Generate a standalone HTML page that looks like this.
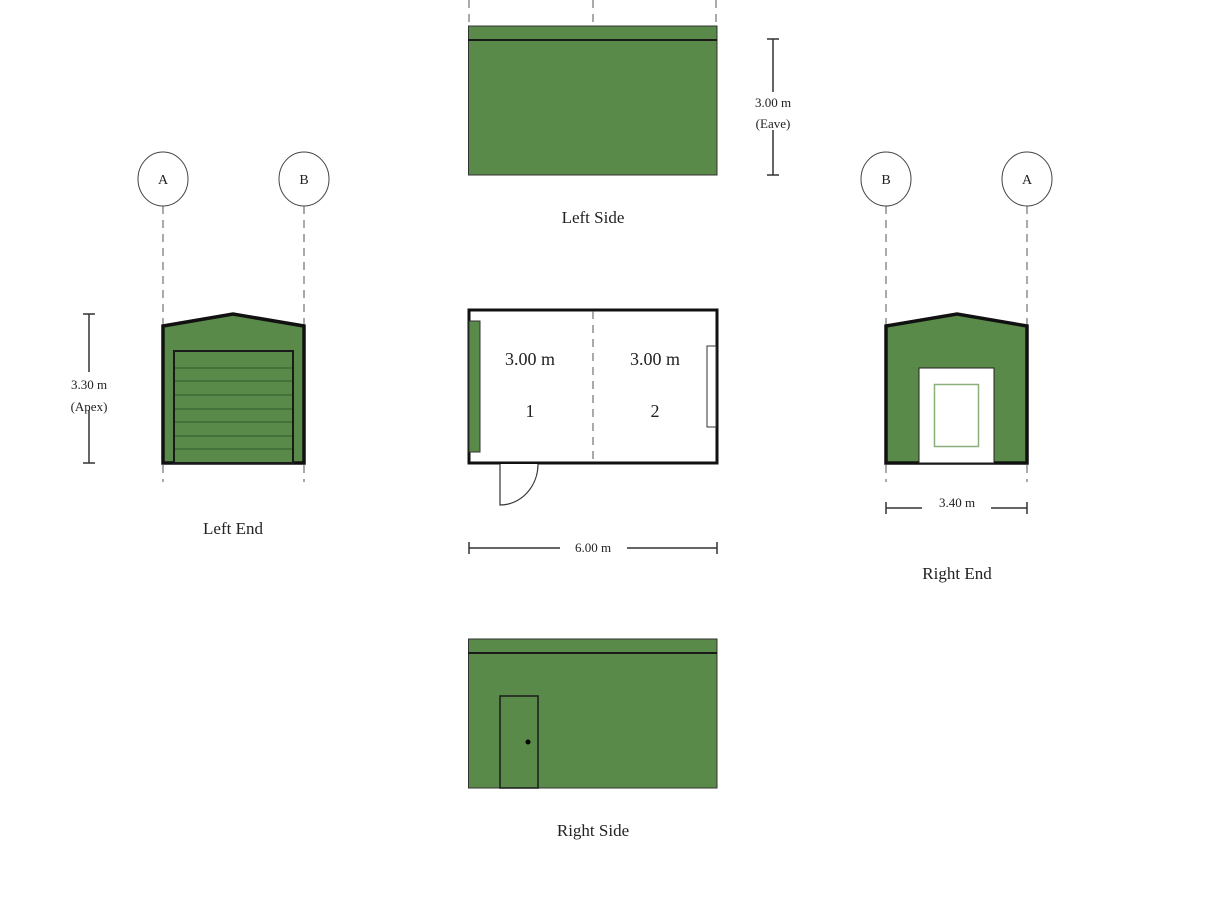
<!DOCTYPE html>
<html><head><meta charset="utf-8"><style>html,body{margin:0;padding:0;background:#fff}svg{display:block}text{font-family:"Liberation Serif",serif;fill:#222}</style></head><body>
<svg width="1212" height="909" viewBox="0 0 1212 909" xmlns="http://www.w3.org/2000/svg">
<g stroke="#555" stroke-width="1" stroke-dasharray="8,6">
<line x1="469" y1="0" x2="469" y2="26"/><line x1="593" y1="0" x2="593" y2="26"/><line x1="716" y1="0" x2="716" y2="26"/>
<line x1="163" y1="206" x2="163" y2="326"/><line x1="304" y1="206" x2="304" y2="326"/>
<line x1="163" y1="465" x2="163" y2="482"/><line x1="304" y1="465" x2="304" y2="482"/>
<line x1="886" y1="206" x2="886" y2="326"/><line x1="1027" y1="206" x2="1027" y2="326"/>
<line x1="886" y1="465" x2="886" y2="482"/><line x1="1027" y1="465" x2="1027" y2="482"/>
</g>
<!-- Left side -->
<rect x="468.5" y="26" width="248.5" height="149" fill="#5a8a4a" stroke="#333" stroke-width="1"/>
<line x1="468" y1="40" x2="717" y2="40" stroke="#1a1a1a" stroke-width="2"/>
<g stroke="#333" stroke-width="1.5"><line x1="773" y1="39" x2="773" y2="92"/><line x1="773" y1="130" x2="773" y2="175"/><line x1="767" y1="39" x2="779" y2="39"/><line x1="767" y1="175" x2="779" y2="175"/></g>
<text x="773" y="107" font-size="13" text-anchor="middle">3.00 m</text>
<text x="773" y="128" font-size="13" text-anchor="middle">(Eave)</text>
<text x="593" y="223" font-size="17" text-anchor="middle">Left Side</text>
<!-- circles -->
<g fill="#fff" stroke="#444" stroke-width="1">
<ellipse cx="163" cy="179" rx="25" ry="27"/><ellipse cx="304" cy="179" rx="25" ry="27"/>
<ellipse cx="886" cy="179" rx="25" ry="27"/><ellipse cx="1027" cy="179" rx="25" ry="27"/>
</g>
<g font-size="14" text-anchor="middle"><text x="163" y="184">A</text><text x="304" y="184">B</text><text x="886" y="184">B</text><text x="1027" y="184">A</text></g>
<!-- Left end -->
<polygon points="163,463 163,326 233,314 304,326 304,463" fill="#5a8a4a" stroke="#111" stroke-width="3.5" stroke-linejoin="miter"/>
<rect x="174" y="351" width="119" height="112" fill="#5a8a4a" stroke="#1a1a1a" stroke-width="2"/>
<g stroke="#2f5a28" stroke-width="1"><line x1="175" y1="368" x2="292" y2="368"/><line x1="175" y1="381" x2="292" y2="381"/><line x1="175" y1="395" x2="292" y2="395"/><line x1="175" y1="409" x2="292" y2="409"/><line x1="175" y1="422" x2="292" y2="422"/><line x1="175" y1="436" x2="292" y2="436"/><line x1="175" y1="449" x2="292" y2="449"/></g>
<g stroke="#333" stroke-width="1.5"><line x1="89" y1="314" x2="89" y2="372"/><line x1="89" y1="410" x2="89" y2="463"/><line x1="83" y1="314" x2="95" y2="314"/><line x1="83" y1="463" x2="95" y2="463"/></g>
<text x="89" y="389" font-size="13" text-anchor="middle">3.30 m</text>
<text x="89" y="411" font-size="13" text-anchor="middle">(Apex)</text>
<text x="233" y="534" font-size="17" text-anchor="middle">Left End</text>
<!-- Plan -->
<rect x="469" y="310" width="248" height="153" fill="#fff" stroke="#111" stroke-width="3"/>
<line x1="593" y1="311" x2="593" y2="462" stroke="#555" stroke-width="1" stroke-dasharray="8,6"/>
<rect x="469" y="321" width="11" height="131" fill="#5a8a4a" stroke="#333" stroke-width="1"/>
<rect x="707" y="346" width="9" height="81" fill="#fff" stroke="#333" stroke-width="1"/>
<path d="M500,464 L500,505 A38,41 0 0 0 538,464" fill="#fff" stroke="#333" stroke-width="1.2"/>
<g font-size="18" text-anchor="middle"><text x="530" y="365">3.00 m</text><text x="530" y="417">1</text><text x="655" y="365">3.00 m</text><text x="655" y="417">2</text></g>
<g stroke="#333" stroke-width="1.5"><line x1="469" y1="548" x2="560" y2="548"/><line x1="627" y1="548" x2="717" y2="548"/><line x1="469" y1="542" x2="469" y2="554"/><line x1="717" y1="542" x2="717" y2="554"/></g>
<text x="593" y="552" font-size="13" text-anchor="middle">6.00 m</text>
<!-- Right end -->
<polygon points="886,463 886,326 957,314 1027,326 1027,463" fill="#5a8a4a" stroke="#111" stroke-width="3.5"/>
<rect x="919" y="368" width="75" height="95" fill="#fff" stroke="#222" stroke-width="1"/>
<rect x="934.5" y="384.5" width="44" height="62" fill="none" stroke="#8ab07a" stroke-width="1.5"/>
<g stroke="#333" stroke-width="1.5"><line x1="886" y1="508" x2="922" y2="508"/><line x1="991" y1="508" x2="1027" y2="508"/><line x1="886" y1="502" x2="886" y2="514"/><line x1="1027" y1="502" x2="1027" y2="514"/></g>
<text x="957" y="507" font-size="13" text-anchor="middle">3.40 m</text>
<text x="957" y="579" font-size="17" text-anchor="middle">Right End</text>
<!-- Right side -->
<rect x="468.5" y="639" width="248.5" height="149" fill="#5a8a4a" stroke="#333" stroke-width="1"/>
<line x1="468" y1="653" x2="717" y2="653" stroke="#1a1a1a" stroke-width="2"/>
<rect x="500" y="696" width="38" height="92" fill="none" stroke="#1a1a1a" stroke-width="1.5"/>
<circle cx="528" cy="742" r="2.5" fill="#000"/>
<text x="593" y="836" font-size="17" text-anchor="middle">Right Side</text>
</svg>
</body></html>
